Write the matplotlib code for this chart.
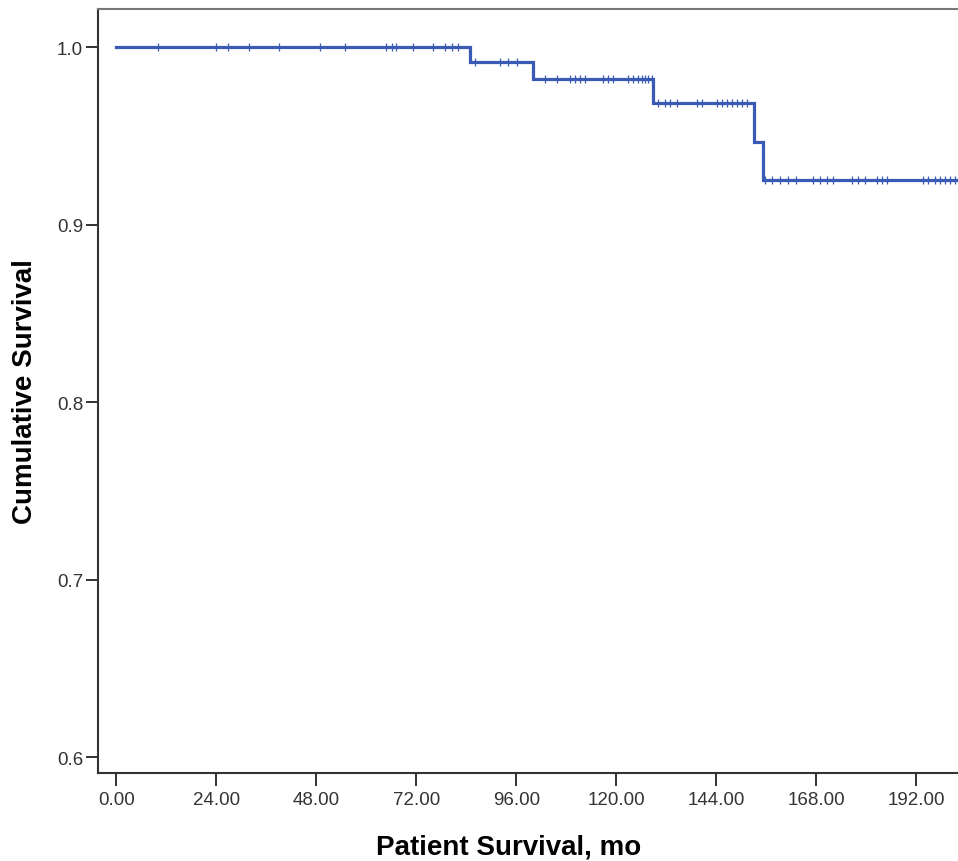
import matplotlib.pyplot as plt
import numpy as np

plt.rcParams['font.family'] = ['Liberation Sans', 'DejaVu Sans']

# event times (months) and survival right after each event
event_times = [0.0, 84.9, 100.0, 128.9, 153.0, 155.1]
survival = [1.0, 0.9915, 0.9821, 0.9686, 0.9465, 0.9252]
follow_up_end = 202.0

# censored observations (months)
censored = [10.1, 23.9, 26.9, 31.9, 39.1, 48.9, 54.9, 64.7, 66.1, 67.1, 71.1,
            75.9, 79.0, 80.5, 82.1,
            86.1, 92.1, 94.1, 96.1,
            102.9, 105.7, 108.9, 110.1, 111.3, 112.5, 116.9, 118.1, 119.3,
            122.9, 124.1, 125.3, 126.1, 126.9, 127.7, 128.5,
            130.1, 131.7, 132.9, 134.5, 139.3, 140.5, 144.1, 145.3, 146.5,
            147.7, 148.9, 150.1, 151.3,
            155.7, 157.3, 159.3, 161.3, 163.1, 167.3, 168.9, 170.5, 172.1,
            176.5, 178.1, 179.7, 182.5, 183.7, 184.9, 193.7, 194.9, 196.5,
            197.7, 198.9, 200.1, 201.3]

x_ticks = [0, 24, 48, 72, 96, 120, 144, 168, 192]
y_ticks = [0.6, 0.7, 0.8, 0.9, 1.0]

line_color = '#3a5bb5'

fig = plt.figure(figsize=(9.58, 8.62), dpi=100)
ax = fig.add_axes([0.1028, 0.1021, 0.8972, 0.8863])

xs = event_times + [follow_up_end]
ys = survival + [survival[-1]]
ax.step(xs, ys, where='post', color=line_color, lw=2.3, solid_joinstyle='miter')

cens_y = [survival[np.searchsorted(event_times, t, side='right') - 1] for t in censored]
ax.plot(censored, cens_y, ls='none', marker='|', ms=6, mew=0.9, color=line_color)

ax.set_xlim(-4.27, 202.0)
ax.set_ylim(0.5912, 1.0216)
ax.set_xticks(x_ticks)
ax.set_xticklabels(['%.2f' % v for v in x_ticks])
ax.set_yticks(y_ticks)
ax.set_yticklabels(['%.1f' % v for v in y_ticks])

ax.tick_params(axis='both', direction='out', length=9, width=1.4, color='#333333',
               labelsize=13.5, labelcolor='#333333')
ax.tick_params(axis='x', pad=4)
ax.tick_params(axis='y', pad=2)

for side in ['left', 'bottom']:
    ax.spines[side].set_color('#333333')
    ax.spines[side].set_linewidth(1.5)
ax.spines['top'].set_color('#777777')
ax.spines['top'].set_linewidth(1.5)
ax.spines['right'].set_visible(False)

ax.set_xlabel('Patient Survival, mo', fontsize=20, fontweight='bold')
ax.set_ylabel('Cumulative Survival', fontsize=20, fontweight='bold')
ax.xaxis.set_label_coords((509 - 98.5) / (958 - 98.5), -(848 - 774) / 764)
ax.yaxis.set_label_coords(-(98.5 - 25) / 859.5, 0.5)
ax.xaxis.label.set_va('center')
ax.yaxis.label.set_va('center')

fig.savefig('out.png', dpi=100)
